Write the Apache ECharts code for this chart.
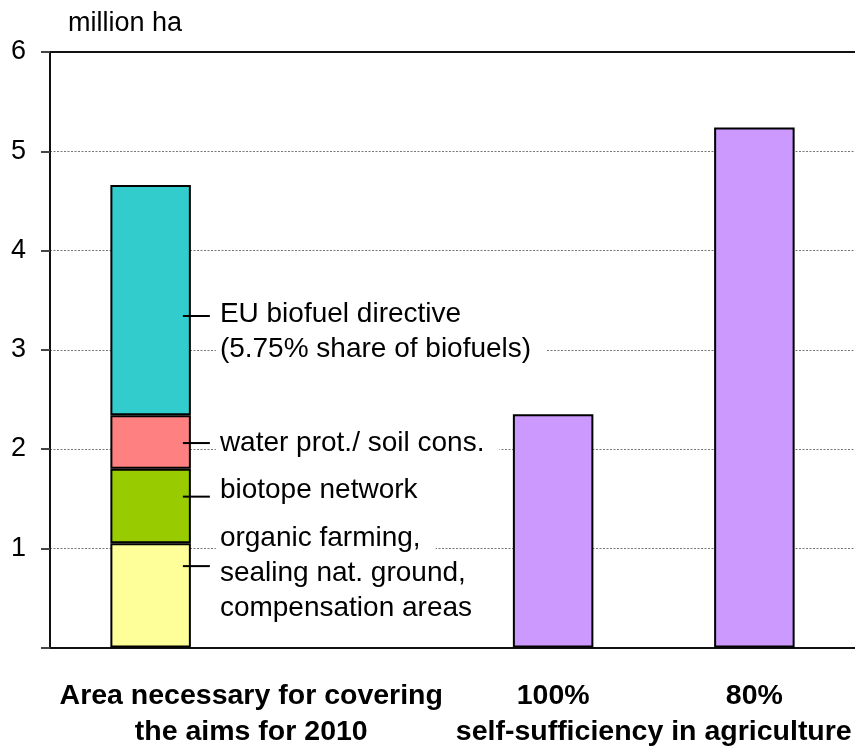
<!DOCTYPE html>
<html>
<head>
<meta charset="utf-8">
<script src="https://cdn.jsdelivr.net/npm/echarts@6/dist/echarts.min.js"></script>
<style>
  html, body { margin: 0; padding: 0; background: #fff; }
  #chart { width: 855px; height: 747px; }
</style>
</head>
<body>
<div id="chart"></div>
<script>
// Land area demand, million ha
const categories = ['aims2010', 'gap', '100%', '80%'];
const organicFarming = [1.05, '-', '-', '-'];
const biotopeNetwork = [0.75, '-', '-', '-'];
const waterProtection = [0.54, '-', '-', '-'];
const euBiofuel = [2.32, '-', '-', '-'];
const selfSufficiency = ['-', '-', 2.35, 5.24];
const yTicks = [0, 1, 2, 3, 4, 5, 6];

// Callouts on the stacked bar: [category index, leader value, text centre value]
const calloutLabels = [
  ['EU biofuel directive', '(5.75% share of biofuels)'],
  ['water prot./ soil cons.'],
  ['biotope network'],
  ['organic farming,', 'sealing nat. ground,', 'compensation areas']
];
const calloutLeader = [3.34, 2.06, 1.52, 0.82];
const calloutText = [3.18, 2.06, 1.58, 0.75];

const FONT = '"Liberation Sans", Arial, Helvetica, sans-serif';
const chart = echarts.init(document.getElementById('chart'), null, { renderer: 'canvas' });

const barBorder = { borderColor: '#000', borderWidth: 2 };
function barSeries(name, data, color) {
  return {
    name, type: 'bar', stack: 'area', data, barWidth: '40%',
    itemStyle: Object.assign({ color }, barBorder),
    emphasis: { disabled: true }, animation: false
  };
}

const calloutData = calloutLabels.map((_, i) => [0, calloutLeader[i], calloutText[i], i]);

const option = {
  animation: false,
  grid: { left: 50, top: 52, width: 808, bottom: 99.5, containLabel: false },
  xAxis: [{
    type: 'category', data: categories, position: 'bottom',
    axisLine: { lineStyle: { color: '#111', width: 2 } },
    axisTick: { show: false },
    axisLabel: {
      interval: 0, margin: 31, color: '#000',
      fontFamily: FONT, fontSize: 28.5, fontWeight: 'bold', lineHeight: 36,
      formatter: v => (v === '100%' || v === '80%') ? v : ''
    }
  }, {
    type: 'category', data: categories, position: 'top',
    axisLine: { lineStyle: { color: '#111', width: 2 } },
    axisTick: { show: false }, axisLabel: { show: false }
  }],
  yAxis: {
    type: 'value', min: yTicks[0], max: yTicks[yTicks.length - 1], interval: 1,
    name: 'million ha', nameLocation: 'end', nameGap: 15,
    nameTextStyle: { color: '#000', fontFamily: FONT, fontSize: 27, align: 'left', padding: [0, 0, 0, 18] },
    axisLine: { show: true, lineStyle: { color: '#111', width: 2 } },
    axisTick: { show: true, inside: false, length: 9, lineStyle: { color: '#444', width: 2 } },
    axisLabel: { color: '#000', fontFamily: FONT, fontSize: 27, margin: 24,
      formatter: v => (v === 0 ? '' : String(v)) },
    splitLine: { show: true, lineStyle: { color: '#777', width: 1, type: [2, 1.5] } }
  },
  series: [
    barSeries('organic farming, sealing nat. ground, compensation areas', organicFarming, '#FFFF99'),
    barSeries('biotope network', biotopeNetwork, '#99CC00'),
    barSeries('water prot./ soil cons.', waterProtection, '#FF8080'),
    barSeries('EU biofuel directive', euBiofuel, '#33CCCC'),
    barSeries('self-sufficiency in agriculture', selfSufficiency, '#CC99FF'),
    {
      type: 'custom', data: calloutData, z: 10, silent: true,
      renderItem: function (params, api) {
        const cat = api.value(0);
        const lead = api.coord([cat, api.value(1)]);
        const textY = api.coord([cat, api.value(2)])[1];
        const band = api.size([1, 0])[0];
        const barRight = lead[0] + band * 0.2;
        const lines = calloutLabels[api.value(3)];
        return {
          type: 'group',
          children: [
            { type: 'line', shape: { x1: barRight - 8, y1: lead[1], x2: barRight + 19, y2: lead[1] },
              style: { stroke: '#000', lineWidth: 2 } },
            { type: 'text', x: barRight + 25, y: textY,
              style: {
                text: lines.map(l => '{t|' + l + '}').join('\n'),
                align: 'left', verticalAlign: 'middle',
                rich: { t: { fontFamily: FONT, fontSize: 28, lineHeight: 35, fill: '#000',
                  backgroundColor: '#fff', padding: [0, 15, 0, 4] } }
              } }
          ]
        };
      }
    }
  ]
};
chart.setOption(option);

// Group captions below the axis, centred between category pairs
function placeCaptions() {
  const c = i => chart.convertToPixel({ xAxisIndex: 0 }, categories[i]);
  const baseY = chart.convertToPixel({ yAxisIndex: 0 }, 0);
  const style = { fontFamily: FONT, fontSize: 28.5, fontWeight: 'bold', fill: '#000', align: 'center', verticalAlign: 'top', lineHeight: 36 };
  chart.setOption({
    graphic: [
      { type: 'text', x: (c(0) + c(1)) / 2, y: baseY + 31,
        style: Object.assign({ text: 'Area necessary for covering\nthe aims for 2010' }, style) },
      { type: 'text', x: (c(2) + c(3)) / 2, y: baseY + 31 + 36,
        style: Object.assign({ text: 'self-sufficiency in agriculture' }, style) }
    ]
  });
}
placeCaptions();
</script>
</body>
</html>
